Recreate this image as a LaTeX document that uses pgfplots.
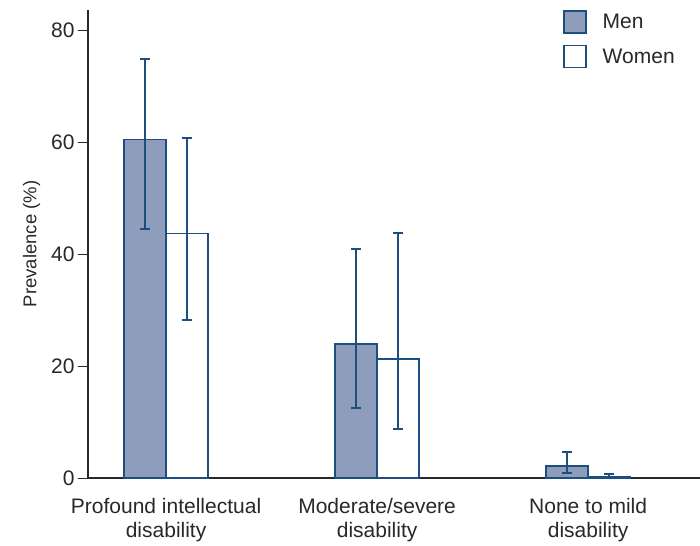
\documentclass[border=0pt]{standalone}
\usepackage{pgfplots}
\pgfplotsset{compat=1.18}
\usetikzlibrary{calc}
\usepackage{fontspec}
\setmainfont{Liberation Sans}
\definecolor{edgeblue}{RGB}{28,78,128}
\definecolor{menfill}{RGB}{142,157,187}
\definecolor{axisgray}{RGB}{40,40,40}
\begin{document}
\begin{tikzpicture}
\begin{axis}[
  scale only axis,
  width=612pt, height=468pt,
  xmin=-0.37, xmax=2.53,
  ymin=0, ymax=83.6,
  axis lines=left,
  axis line style={-, axisgray, line width=1.2pt},
  xtick={0,1,2},
  xticklabels={{Profound intellectual\\disability},{Moderate/severe\\disability},{None to mild\\disability}},
  xticklabel style={align=center, text=axisgray, font=\fontsize{21}{24}\selectfont, yshift=-7pt},
  ytick={0,20,40,60,80},
  yticklabel style={text=axisgray, font=\fontsize{21}{24}\selectfont},
  /pgf/number format/assume math mode=true,
  tick align=outside,
  major tick length=10pt,
  tick style={axisgray, line width=1pt},
  xtick style={draw=none},
  ylabel={Prevalence (\%)},
  ylabel style={text=axisgray, font=\fontsize{18.5}{21}\selectfont, yshift=4pt},
  ybar, bar width=42pt,
  legend style={draw=none, fill=none, at={(0.776,1.0)}, anchor=north west, inner sep=0pt, row sep=11pt, column sep=14pt, font=\fontsize{21}{24}\selectfont, text=axisgray},
  legend cell align=left,
  legend image code/.code={\draw[#1, line width=1.6pt] (0pt,-11pt) rectangle (22pt,11pt);},
  error bars/error bar style={edgeblue, line width=1.8pt},
  error bars/error mark options={edgeblue, line width=1.8pt, mark size=5pt, rotate=90},
]
\coordinate (bl) at (rel axis cs:0,0);
\coordinate (tr) at (rel axis cs:1,1);
\addplot[draw=edgeblue, fill=menfill, line width=1.6pt, bar shift=-21pt,
  error bars/.cd, y dir=both, y explicit]
  coordinates {
    (0,60.5) += (0,14.3) -= (0,16.0)
    (1,23.9) += (0,17.0) -= (0,11.4)
    (2,2.1)  += (0,2.5)  -= (0,1.2)
  };
\addplot[draw=edgeblue, fill=white, line width=1.6pt, bar shift=21pt,
  error bars/.cd, y dir=both, y explicit]
  coordinates {
    (0,43.7) += (0,17.0) -= (0,15.5)
    (1,21.3) += (0,22.5) -= (0,12.5)
    (2,0.3)  += (0,0.4)  -= (0,0.2)
  };
\legend{Men, Women}
\end{axis}
\pgfresetboundingbox
\path ($(bl)+(-88pt,-67pt)$) rectangle ($(tr)+(0pt,10pt)$);
\end{tikzpicture}
\end{document}
